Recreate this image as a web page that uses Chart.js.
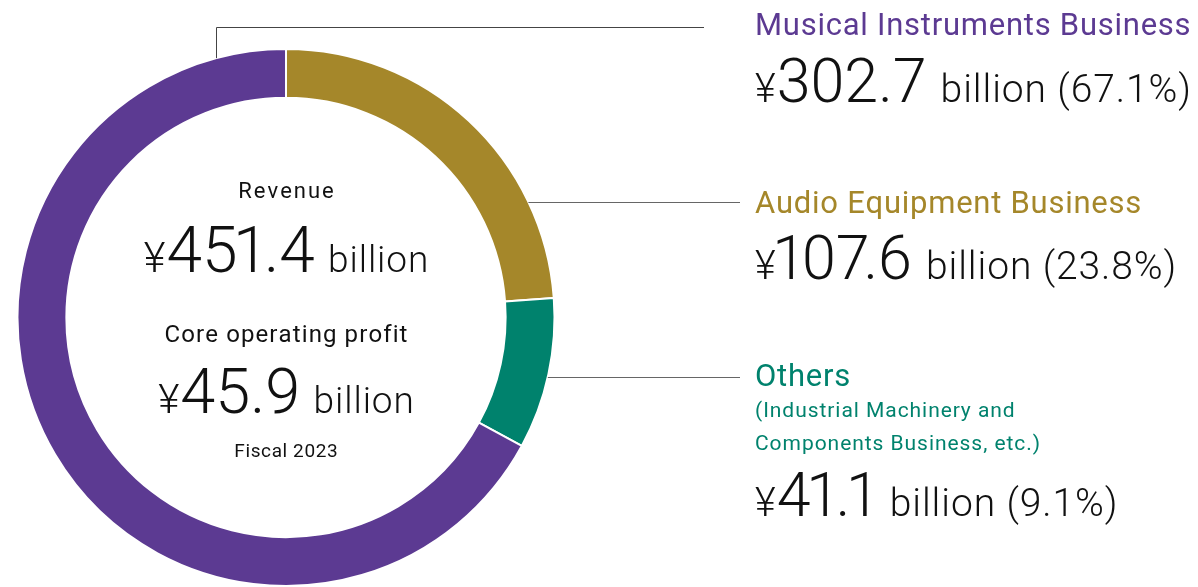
<!DOCTYPE html>
<html>
<head>
<meta charset="utf-8">
<script src="https://cdn.jsdelivr.net/npm/chart.js@4.4.1/dist/chart.umd.min.js"></script>
<style>
  body { margin: 0; background: #fff; }
  canvas { display: block; }
</style>
</head>
<body>
<canvas id="donut" width="1198" height="587"></canvas>
<script>
// segments in clockwise order from 12 o'clock
const categories = ['Audio Equipment Business', 'Others', 'Musical Instruments Business'];
const revenue = [107.6, 41.1, 302.7];      // ¥ billion
const shares = [23.8, 9.1, 67.1];          // %
const colors = ['#A5872A', '#00826D', '#5C3A92'];
const subLabels = [[], ['(Industrial Machinery and', 'Components Business, etc.)'], []];

const totalRevenue = 451.4;
const coreProfit = 45.9;
const fiscalYear = 'Fiscal 2023';

const FONT = 'Roboto, "Liberation Sans", sans-serif';

// draw char by char so digits can be set proportionally (narrow "1", tight "7.")
function runWidth(ctx, r, draw, x, y) {
    ctx.font = (r.weight || 400) + ' ' + r.size + 'px ' + FONT;
    ctx.fillStyle = r.color || '#111';
    let cx = x || 0;
    const chars = r.text.split('');
    chars.forEach((ch, i) => {
        let adv = ctx.measureText(ch).width;
        let shift = 0;
        if (r.prop && ch === '1') { shift = -0.07 * r.size; adv -= 0.14 * r.size; }
        if (r.prop && ch === '7' && chars[i + 1] === '.') adv -= 0.1 * r.size;
        if (draw) ctx.fillText(ch, cx + shift, y);
        cx += adv + (i < chars.length - 1 ? (r.spacing || 0) : 0);
    });
    return cx - (x || 0);
}

function drawRuns(ctx, runs, x, y, align) {
    ctx.textBaseline = 'alphabetic';
    ctx.textAlign = 'left';
    let w = 0;
    runs.forEach(r => { w += runWidth(ctx, r, false) + (r.gap || 0); });
    let cx = align === 'center' ? x - w / 2 : x;
    runs.forEach(r => {
        cx += r.gap || 0;
        cx += runWidth(ctx, r, true, cx, y);
    });
}

function valueRuns(v, pct, big, small, yen) {
    let tail = 'billion';
    if (pct !== undefined) tail += ' (' + pct.toFixed(1) + '%)';
    return [
        { text: '¥', size: yen, weight: 300 },
        { text: v.toFixed(1), size: big, weight: 300, prop: true, gap: 1 },
        { text: tail, size: small, weight: 300, spacing: 0.9, gap: small * 0.36 }
    ];
}

// label block per segment: title baseline, value baseline, y of leader line
const labelX = 755;
const blocks = [
    { title: 213, value: 279, line: 202 },
    { title: 386, value: 516, line: 377 },
    { title: 35, value: 102, line: 27 }
];

const annotations = {
    id: 'annotations',
    afterDraw(chart) {
        const ctx = chart.ctx;
        const arc = chart.getDatasetMeta(0).data[0];
        const cx = arc.x, cy = arc.y, r = arc.outerRadius;

        ctx.save();
        // leader lines
        ctx.lineWidth = 1;
        blocks.forEach((b, i) => {
            ctx.beginPath();
            if (i === 2) {
                ctx.strokeStyle = '#444';
                const vx = 216.5;
                const vy = cy - Math.sqrt(r * r - (vx - cx) * (vx - cx));
                ctx.moveTo(vx, vy);
                ctx.lineTo(vx, b.line + 0.5);
                ctx.lineTo(704, b.line + 0.5);
            } else {
                ctx.strokeStyle = '#666';
                const hx = cx + Math.sqrt(r * r - (b.line - cy) * (b.line - cy));
                ctx.moveTo(hx, b.line + 0.5);
                ctx.lineTo(740, b.line + 0.5);
            }
            ctx.stroke();
        });

        // right-hand labels
        blocks.forEach((b, i) => {
            drawRuns(ctx, [{ text: categories[i], size: 31, color: colors[i], spacing: 0.75 }], labelX, b.title, 'left');
            subLabels[i].forEach((s, k) => {
                drawRuns(ctx, [{ text: s, size: 21, color: colors[i], spacing: 0.95 }], labelX, b.title + 31 + k * 33, 'left');
            });
            drawRuns(ctx, valueRuns(revenue[i], shares[i], 61, 39, 40), labelX, b.value, 'left');
        });

        // centre text
        drawRuns(ctx, [{ text: 'Revenue', size: 22, spacing: 2 }], cx, 198, 'center');
        drawRuns(ctx, valueRuns(totalRevenue, undefined, 64, 37, 42), cx, 272, 'center');
        drawRuns(ctx, [{ text: 'Core operating profit', size: 24, spacing: 1.1 }], cx, 342, 'center');
        drawRuns(ctx, valueRuns(coreProfit, undefined, 63, 37, 41), cx, 413, 'center');
        drawRuns(ctx, [{ text: fiscalYear, size: 19, spacing: 0.6 }], cx, 457, 'center');
        ctx.restore();
    }
};

new Chart(document.getElementById('donut'), {
    type: 'doughnut',
    data: {
        labels: categories,
        datasets: [{
            data: revenue,
            backgroundColor: colors,
            borderColor: '#fff',
            borderWidth: 2
        }]
    },
    options: {
        responsive: false,
        animation: false,
        cutout: '81.8%',
        layout: { padding: { left: 16.5, right: 642.5, top: 48, bottom: 0 } },
        plugins: {
            legend: { display: false },
            tooltip: { enabled: false }
        }
    },
    plugins: [annotations]
});
</script>
</body>
</html>
